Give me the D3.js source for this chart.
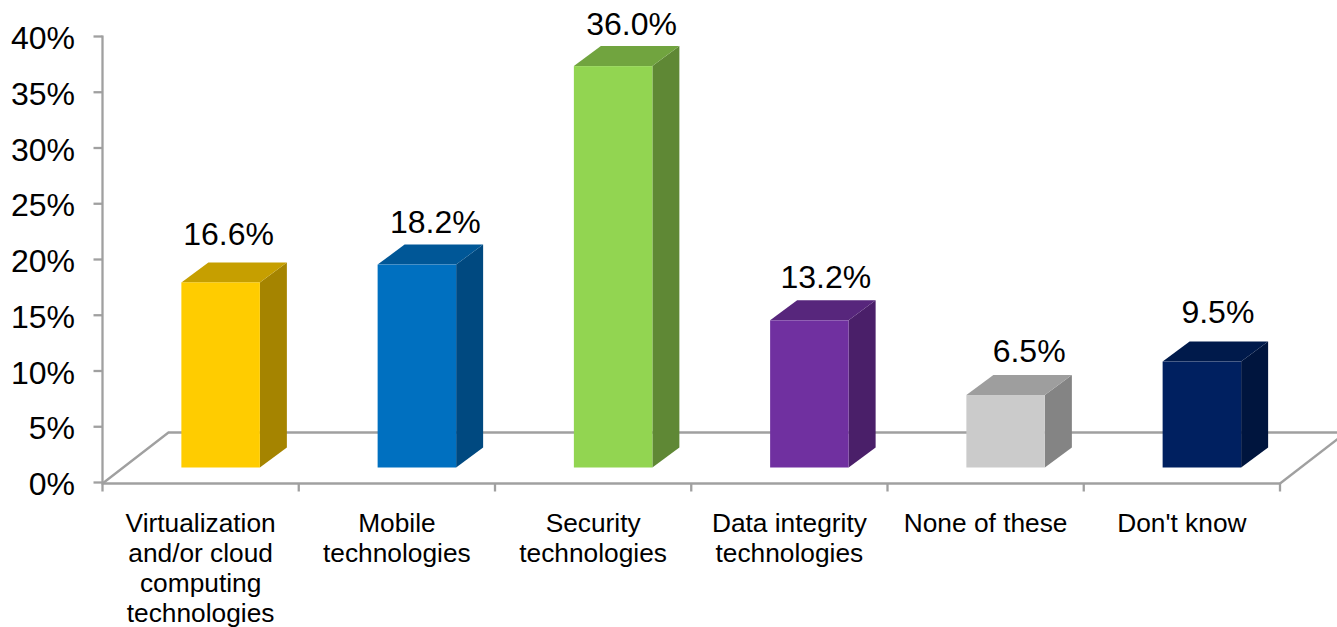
<!DOCTYPE html>
<html>
<head>
<meta charset="utf-8">
<script src="https://cdn.jsdelivr.net/npm/d3@7"></script>
<style>
  html, body { margin: 0; padding: 0; background: #fff; overflow: hidden; }
  text { font-family: "Liberation Sans", Arial, sans-serif; fill: #000; }
</style>
</head>
<body>
<div id="chart"></div>
<script>
const categories = [
  ['Virtualization', 'and/or cloud', 'computing', 'technologies'],
  ['Mobile', 'technologies'],
  ['Security', 'technologies'],
  ['Data integrity', 'technologies'],
  ['None of these'],
  ["Don't know"]
];
const values = [16.6, 18.2, 36.0, 13.2, 6.5, 9.5];
const frontColors = ['#ffcc00', '#0070c0', '#92d551', '#7030a0', '#cbcbcb', '#002060'];
const topColors = ['#c69f00', '#005797', '#71a43f', '#57267c', '#9e9e9e', '#001a4b'];
const sideColors = ['#a58400', '#004980', '#5f8835', '#4a1f69', '#848484', '#00153e'];
const yTicks = [0, 5, 10, 15, 20, 25, 30, 35, 40];

const width = 1337, height = 627;
const axisColor = '#a0a0a0';
const axisWidth = 2.3;

// floor and bar depth of the 3d look
const floorDx = 66, floorDy = -50;
const barDx = 27, barDy = -20, barLift = -15;

// hand placed value labels, they don't sit evenly over the bars
const labelNudgeX = [-6, 4.5, 4.5, 2.5, 9.5, 2];
const labelNudgeY = [0, 6, 6, 5, 4, -1];

const svg = d3.select('#chart').append('svg')
  .attr('width', width)
  .attr('height', height);

const x = d3.scaleBand()
  .domain(d3.range(categories.length))
  .range([102.5, 1280])
  .paddingInner(0.6)
  .paddingOuter(0.3);

const y = d3.scaleLinear().domain([0, 40]).range([482.5, 36.5]);

// floor
const floor = svg.append('g')
  .attr('fill', 'none')
  .attr('stroke', axisColor)
  .attr('stroke-width', axisWidth);
const x0 = x.range()[0], x1 = x.range()[1], y0 = y(0);
floor.append('path').attr('d', `M${x0},${y0 + 1}L${x0 + floorDx},${y0 + floorDy}H${width}`);
floor.append('path').attr('d', `M${x1},${y0 + 1}L${x1 + floorDx},${y0 + floorDy}`);

// axes
const step = x.step();
const xTicks = d3.range(categories.length + 1).map(i => x0 + i * step);
const xAxis = svg.append('g').attr('stroke', axisColor).attr('stroke-width', axisWidth);
xAxis.append('line').attr('x1', x0 - 1).attr('x2', x1 + 1).attr('y1', y0 + 1).attr('y2', y0 + 1);
xAxis.selectAll('line.tick').data(xTicks).enter().append('line')
  .attr('class', 'tick')
  .attr('x1', d => d).attr('x2', d => d)
  .attr('y1', y0 + 1).attr('y2', y0 + 9);

const yAxis = svg.append('g').attr('stroke', axisColor).attr('stroke-width', axisWidth);
yAxis.append('line').attr('x1', x0).attr('x2', x0).attr('y1', y(40) - 1).attr('y2', y0 + 1);
yAxis.selectAll('line.tick').data(yTicks).enter().append('line')
  .attr('class', 'tick')
  .attr('x1', x0 - 9).attr('x2', x0)
  .attr('y1', d => y(d)).attr('y2', d => y(d));

svg.append('g').selectAll('text').data(yTicks).enter().append('text')
  .attr('x', 75)
  .attr('y', d => y(d) + 12.5)
  .attr('text-anchor', 'end')
  .style('font-size', '32px')
  .text(d => d + '%');

// bars
const barOffset = barDx - 7;
const bars = svg.append('g').selectAll('g').data(values).enter().append('g');

bars.append('path')
  .attr('fill', (d, i) => sideColors[i])
  .attr('d', (d, i) => {
    const r = x(i) + barOffset + x.bandwidth();
    const t = y(d) + barLift, b = y(0) + barLift;
    return `M${r},${t}L${r + barDx},${t + barDy}V${b + barDy}L${r},${b}Z`;
  });

bars.append('path')
  .attr('fill', (d, i) => topColors[i])
  .attr('d', (d, i) => {
    const l = x(i) + barOffset, r = l + x.bandwidth();
    const t = y(d) + barLift;
    return `M${l},${t}L${l + barDx},${t + barDy}H${r + barDx}L${r},${t}Z`;
  });

bars.append('rect')
  .attr('fill', (d, i) => frontColors[i])
  .attr('x', (d, i) => x(i) + barOffset)
  .attr('y', d => y(d) + barLift)
  .attr('width', x.bandwidth())
  .attr('height', d => y(0) - y(d));

// value labels
bars.append('text')
  .attr('x', (d, i) => x(i) + barOffset + x.bandwidth() / 2 + 14 + labelNudgeX[i])
  .attr('y', (d, i) => y(d) + barLift + barDy - 17.5 + labelNudgeY[i])
  .attr('text-anchor', 'middle')
  .style('font-size', '32px')
  .text(d => d.toFixed(1) + '%');

// category labels
svg.append('g').selectAll('text').data(categories).enter().append('text')
  .attr('text-anchor', 'middle')
  .style('font-size', '26.3px')
  .each(function (lines, i) {
    d3.select(this).selectAll('tspan').data(lines).enter().append('tspan')
      .attr('x', x(i) + x.bandwidth() / 2)
      .attr('y', (l, k) => 532 + k * 30)
      .text(l => l);
  });
</script>
</body>
</html>
